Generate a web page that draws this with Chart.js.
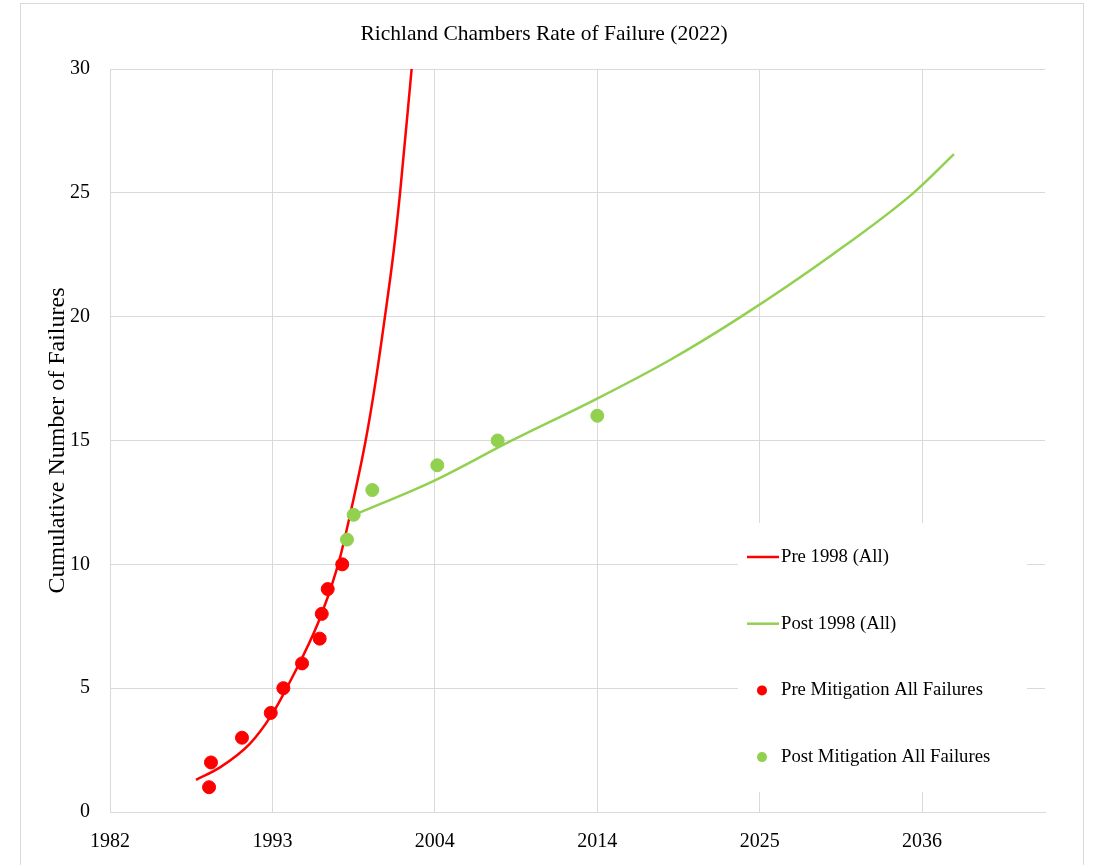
<!DOCTYPE html>
<html>
<head>
<meta charset="utf-8">
<script src="https://cdn.jsdelivr.net/npm/chart.js@4.4.1/dist/chart.umd.min.js"></script>
<style>
  body { margin: 0; background: #fff; }
  canvas { display: block; }
</style>
</head>
<body>
<canvas id="failChart" width="1096" height="865"></canvas>
<script>
// x values are decimal years, y values cumulative failure counts
const xTickLabels = ["1982", "1993", "2004", "2014", "2025", "2036"];
const xTickValues = [1982.12, 1993.07, 2004.02, 2014.97, 2025.93, 2036.88];

const preYears = [1988.80, 1988.93, 1991.02, 1992.96, 1993.81, 1995.07, 1996.26, 1996.40, 1996.80, 1997.78];
const preCounts = [1, 2, 3, 4, 5, 6, 7, 8, 9, 10];

const postYears = [1998.10, 1998.55, 1999.81, 2004.19, 2008.26, 2014.98];
const postCounts = [11, 12, 13, 14, 15, 16];

// trend lines
const preFitYears = [1987.92, 1989.54, 1991.56, 1993.02, 1994.03, 1996.28, 1997.51, 1998.15, 1999.36, 2000.06, 2000.66, 2001.22, 2001.68, 2002.46];
const preFitValues = [1.30, 1.80, 2.76, 3.92, 5.00, 7.82, 10.0, 11.58, 15.0, 17.5, 20.0, 22.5, 25.0, 30.0];

const postFitYears = [1998.53, 2004.04, 2009.09, 2014.94, 2019.88, 2024.60, 2030.89, 2036.29, 2039.03];
const postFitValues = [11.98, 13.39, 14.96, 16.68, 18.25, 19.97, 22.53, 24.99, 26.56];

const RED = "#ff0000";
const GREEN = "#92d050";
const FONT = "'Liberation Serif', 'Times New Roman', serif";

function pairs(xs, ys) {
    return xs.map((x, i) => ({ x: x, y: ys[i] }));
}

const frame = {
    id: "frame",
    beforeDraw(chart) {
        const ctx = chart.ctx;
        ctx.save();
        ctx.fillStyle = "#fff";
        ctx.fillRect(0, 0, chart.width, chart.height);
        ctx.strokeStyle = "#d9d9d9";
        ctx.lineWidth = 1;
        ctx.strokeRect(20.5, 3.5, 1063, 900);
        ctx.restore();
    }
};

const boxLegend = {
    id: "boxLegend",
    afterDatasetsDraw(chart) {
        const ctx = chart.ctx;
        const left = 738, top = 523;
        ctx.save();
        ctx.fillStyle = "#fff";
        ctx.fillRect(left, top, 289, 269);
        ctx.font = "18.7px " + FONT;
        ctx.textBaseline = "middle";
        ctx.textAlign = "left";
        chart.data.datasets.forEach((ds, i) => {
            const y = 557 + i * 66.7;
            if (ds.showLine) {
                ctx.strokeStyle = ds.borderColor;
                ctx.lineWidth = 2.5;
                ctx.beginPath();
                ctx.moveTo(747, y);
                ctx.lineTo(779, y);
                ctx.stroke();
            } else {
                ctx.fillStyle = ds.backgroundColor;
                ctx.beginPath();
                ctx.arc(762, y, 5, 0, Math.PI * 2);
                ctx.fill();
            }
            ctx.fillStyle = "#000";
            ctx.fillText(ds.label, 781, y);
        });
        ctx.restore();
    }
};

new Chart(document.getElementById("failChart"), {
    type: "scatter",
    data: {
        datasets: [
            {
                label: "Pre 1998 (All)",
                data: pairs(preFitYears, preFitValues),
                showLine: true,
                borderColor: RED,
                borderWidth: 2.5,
                pointRadius: 0,
                cubicInterpolationMode: "monotone",
                order: 2
            },
            {
                label: "Post 1998 (All)",
                data: pairs(postFitYears, postFitValues),
                showLine: true,
                borderColor: GREEN,
                borderWidth: 2.5,
                pointRadius: 0,
                cubicInterpolationMode: "monotone",
                order: 2
            },
            {
                label: "Pre Mitigation All Failures",
                data: pairs(preYears, preCounts),
                backgroundColor: RED,
                borderColor: RED,
                pointRadius: 6.5,
                order: 1
            },
            {
                label: "Post Mitigation All Failures",
                data: pairs(postYears, postCounts),
                backgroundColor: GREEN,
                borderColor: GREEN,
                pointRadius: 6.5,
                order: 1
            }
        ]
    },
    options: {
        responsive: false,
        animation: false,
        devicePixelRatio: 1,
        layout: { padding: { left: 43, right: 51, top: 0, bottom: 0 } },
        plugins: {
            legend: { display: false },
            tooltip: { enabled: false },
            title: {
                display: true,
                text: "Richland Chambers Rate of Failure (2022)",
                color: "#000",
                font: { family: FONT, size: 21.5, weight: "normal", lineHeight: 1.2 },
                padding: { top: 21, bottom: 22.2 }
            }
        },
        scales: {
            x: {
                type: "linear",
                min: 1982.12,
                max: 2045.17,
                afterBuildTicks: scale => {
                    scale.ticks = xTickValues.map(v => ({ value: v }));
                },
                afterFit: scale => { scale.height = 53; },
                grid: { color: "#d9d9d9", lineWidth: 1, drawTicks: false },
                border: { color: "#d9d9d9" },
                ticks: {
                    color: "#000",
                    padding: 18,
                    maxRotation: 0,
                    font: { family: FONT, size: 20 },
                    callback: (v, i) => xTickLabels[i]
                }
            },
            y: {
                min: 0,
                max: 30,
                afterFit: scale => { scale.width = 67; },
                grid: { color: "#d9d9d9", lineWidth: 1, drawTicks: false },
                border: { color: "#d9d9d9" },
                ticks: {
                    stepSize: 5,
                    color: "#000",
                    padding: 20,
                    font: { family: FONT, size: 20 }
                },
                title: {
                    display: true,
                    text: "Cumulative Number of Failures",
                    color: "#000",
                    font: { family: FONT, size: 24 },
                    padding: 0
                }
            }
        }
    },
    plugins: [frame, boxLegend]
});
</script>
</body>
</html>
